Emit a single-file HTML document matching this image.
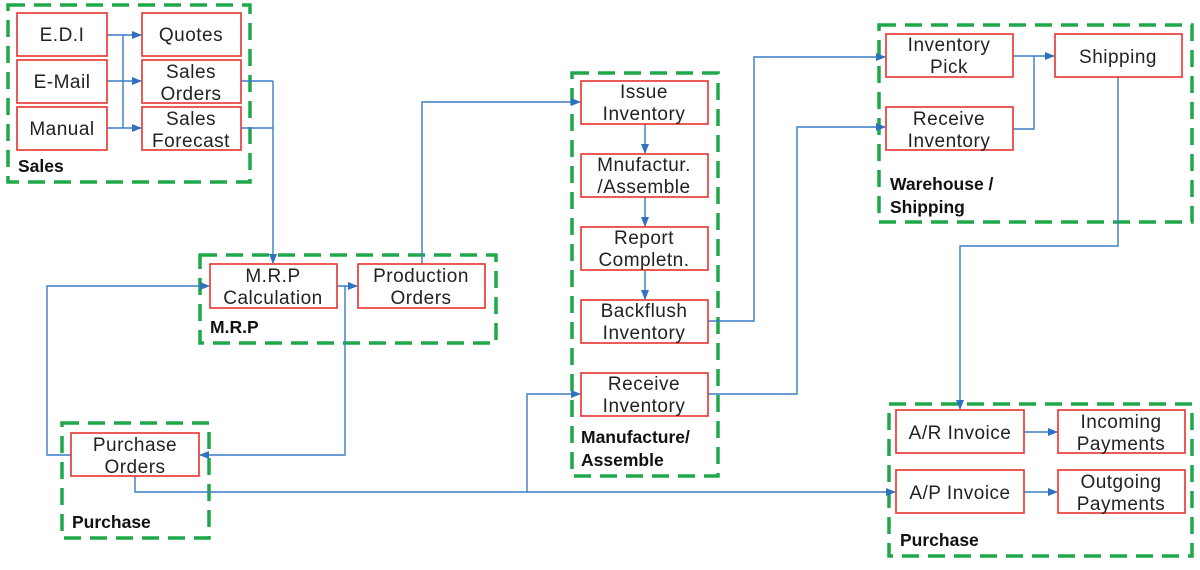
<!DOCTYPE html>
<html><head><meta charset="utf-8"><style>
html,body{margin:0;padding:0;background:#fff;}
svg{display:block;}
.g{fill:none;stroke:#1fa84a;stroke-width:3.5;stroke-dasharray:17,9;}
.b{fill:#fff;stroke:#e8322d;stroke-width:1.6;}
.l{fill:none;stroke:#3a7cc4;stroke-width:1.4;}
.t{font-family:"Liberation Sans",sans-serif;font-size:19px;letter-spacing:0.5px;fill:#222;text-anchor:middle;}
.h{font-family:"Liberation Sans",sans-serif;font-size:17.5px;font-weight:bold;fill:#111;}
</style></head><body>
<svg width="1200" height="570" viewBox="0 0 1200 570" xmlns="http://www.w3.org/2000/svg">
<defs><marker id="a" markerWidth="10" markerHeight="8" refX="9" refY="4" orient="auto" markerUnits="userSpaceOnUse"><path d="M0,0 L10,4 L0,8z" fill="#2f72c0"/></marker></defs>
<rect class="g" x="8" y="5" width="242" height="177"/>
<rect class="g" x="200" y="255" width="296" height="88"/>
<rect class="g" x="62" y="423" width="147" height="115"/>
<rect class="g" x="572" y="73" width="146" height="403"/>
<rect class="g" x="879" y="25" width="313" height="197"/>
<rect class="g" x="889" y="404" width="303" height="152"/>
<path class="l" d="M107,35 H123 V128"/>
<path class="l" d="M123,35 H141" marker-end="url(#a)"/>
<path class="l" d="M107,81 H141" marker-end="url(#a)"/>
<path class="l" d="M107,128 H141" marker-end="url(#a)"/>
<path class="l" d="M241,81 H273 M241,128 H273"/>
<path class="l" d="M273,81 V263" marker-end="url(#a)"/>
<path class="l" d="M337,286 H357" marker-end="url(#a)"/>
<path class="l" d="M345,286 V455 H200" marker-end="url(#a)"/>
<path class="l" d="M422,264 V102 H580" marker-end="url(#a)"/>
<path class="l" d="M71,455 H47 V286 H209" marker-end="url(#a)"/>
<path class="l" d="M135,476 V492 H895" marker-end="url(#a)"/>
<path class="l" d="M527,492 V394 H580" marker-end="url(#a)"/>
<path class="l" d="M645,124 V153" marker-end="url(#a)"/>
<path class="l" d="M645,197 V226" marker-end="url(#a)"/>
<path class="l" d="M645,270 V299" marker-end="url(#a)"/>
<path class="l" d="M708,321 H754 V57 H885" marker-end="url(#a)"/>
<path class="l" d="M708,394 H797 V127 H885" marker-end="url(#a)"/>
<path class="l" d="M1013,56 H1034 M1013,129 H1034 V56"/>
<path class="l" d="M1034,56 H1054" marker-end="url(#a)"/>
<path class="l" d="M1118,77 V246 H960 V409" marker-end="url(#a)"/>
<path class="l" d="M1024,432 H1057" marker-end="url(#a)"/>
<path class="l" d="M1024,492 H1057" marker-end="url(#a)"/>
<rect class="b" x="17" y="13" width="90" height="43"/><text class="t" x="62" y="41">E.D.I</text>
<rect class="b" x="17" y="60" width="90" height="43"/><text class="t" x="62" y="88">E-Mail</text>
<rect class="b" x="17" y="107" width="90" height="43"/><text class="t" x="62" y="135">Manual</text>
<rect class="b" x="142" y="13" width="99" height="43"/><text class="t" x="191" y="41">Quotes</text>
<rect class="b" x="142" y="60" width="99" height="43"/><text class="t" x="191" y="78">Sales</text><text class="t" x="191" y="100">Orders</text>
<rect class="b" x="142" y="107" width="99" height="43"/><text class="t" x="191" y="125">Sales</text><text class="t" x="191" y="147">Forecast</text>
<rect class="b" x="210" y="264" width="127" height="44"/><text class="t" x="273" y="282">M.R.P</text><text class="t" x="273" y="304">Calculation</text>
<rect class="b" x="358" y="264" width="127" height="44"/><text class="t" x="421" y="282">Production</text><text class="t" x="421" y="304">Orders</text>
<rect class="b" x="71" y="433" width="128" height="43"/><text class="t" x="135" y="451">Purchase</text><text class="t" x="135" y="473">Orders</text>
<rect class="b" x="581" y="81" width="127" height="43"/><text class="t" x="644" y="98">Issue</text><text class="t" x="644" y="120">Inventory</text>
<rect class="b" x="581" y="154" width="127" height="43"/><text class="t" x="644" y="171">Mnufactur.</text><text class="t" x="644" y="193">/Assemble</text>
<rect class="b" x="581" y="227" width="127" height="43"/><text class="t" x="644" y="244">Report</text><text class="t" x="644" y="266">Completn.</text>
<rect class="b" x="581" y="300" width="127" height="43"/><text class="t" x="644" y="317">Backflush</text><text class="t" x="644" y="339">Inventory</text>
<rect class="b" x="581" y="373" width="127" height="43"/><text class="t" x="644" y="390">Receive</text><text class="t" x="644" y="412">Inventory</text>
<rect class="b" x="886" y="34" width="127" height="43"/><text class="t" x="949" y="51">Inventory</text><text class="t" x="949" y="73">Pick</text>
<rect class="b" x="886" y="107" width="127" height="43"/><text class="t" x="949" y="125">Receive</text><text class="t" x="949" y="147">Inventory</text>
<rect class="b" x="1055" y="34" width="127" height="43"/><text class="t" x="1118" y="63">Shipping</text>
<rect class="b" x="896" y="410" width="128" height="43"/><text class="t" x="960" y="439">A/R Invoice</text>
<rect class="b" x="1058" y="410" width="127" height="43"/><text class="t" x="1121" y="428">Incoming</text><text class="t" x="1121" y="450">Payments</text>
<rect class="b" x="896" y="470" width="128" height="43"/><text class="t" x="960" y="499">A/P Invoice</text>
<rect class="b" x="1058" y="470" width="127" height="43"/><text class="t" x="1121" y="488">Outgoing</text><text class="t" x="1121" y="510">Payments</text>
<text class="h" x="18" y="172">Sales</text>
<text class="h" x="210" y="333">M.R.P</text>
<text class="h" x="72" y="528">Purchase</text>
<text class="h" x="581" y="443">Manufacture/</text>
<text class="h" x="581" y="466">Assemble</text>
<text class="h" x="890" y="190">Warehouse /</text>
<text class="h" x="890" y="213">Shipping</text>
<text class="h" x="900" y="546">Purchase</text>
</svg>
</body></html>
